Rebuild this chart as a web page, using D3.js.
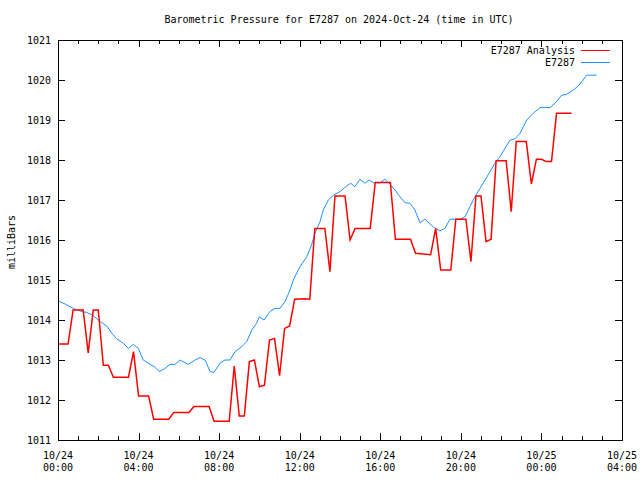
<!DOCTYPE html>
<html>
<head>
<meta charset="utf-8">
<script src="https://cdn.jsdelivr.net/npm/d3@7"></script>
<style>
  html, body { margin: 0; padding: 0; background: #fff; }
  svg { display: block; }
  text { font-family: "DejaVu Sans Mono", "Liberation Mono", monospace; font-size: 10px; fill: #000; }
</style>
</head>
<body>
<svg id="chart" width="640" height="480"></svg>
<script>
// ---- data (time = hours since 2024-10-24 00:00 UTC, value = millibars) ----
const title = "Barometric Pressure for E7287 on 2024-Oct-24 (time in UTC)";
const yLabel = "milliBars";
const seriesNames = ["E7287 Analysis", "E7287"];

const analysisTimes = [0, 0.5, 0.75, 1.25, 1.5, 1.75, 2.0, 2.25, 2.5, 2.75, 3.5, 3.75, 4.0, 4.5, 4.75, 5.5, 5.75, 6.5, 6.75, 7.5, 7.75, 8.5, 8.75, 9.0, 9.25, 9.5, 9.75, 10.0, 10.25, 10.5, 10.75, 11.0, 11.25, 11.5, 11.75, 12.25, 12.5, 12.75, 13.25, 13.5, 13.75, 14.25, 14.5, 14.75, 15.5, 15.75, 16.5, 16.75, 17.5, 17.75, 18.5, 18.75, 19.0, 19.5, 19.75, 20.25, 20.5, 20.75, 21.0, 21.25, 21.5, 21.75, 22.25, 22.5, 22.75, 23.25, 23.5, 23.75, 24.0, 24.25, 24.5, 24.75, 25.5];
const analysisValues = [1013.4, 1013.4, 1014.25, 1014.25, 1013.18, 1014.25, 1014.25, 1012.87, 1012.87, 1012.57, 1012.57, 1013.21, 1012.1, 1012.1, 1011.52, 1011.52, 1011.69, 1011.69, 1011.84, 1011.84, 1011.47, 1011.47, 1012.85, 1011.6, 1011.6, 1012.96, 1013.0, 1012.33, 1012.37, 1013.5, 1013.54, 1012.61, 1013.79, 1013.85, 1014.52, 1014.53, 1014.52, 1016.29, 1016.29, 1015.21, 1017.1, 1017.1, 1016.0, 1016.29, 1016.29, 1017.44, 1017.44, 1016.02, 1016.02, 1015.67, 1015.63, 1016.29, 1015.25, 1015.25, 1016.52, 1016.52, 1015.46, 1017.1, 1017.1, 1015.96, 1016.02, 1017.98, 1017.98, 1016.71, 1018.46, 1018.46, 1017.4, 1018.02, 1018.02, 1017.96, 1017.96, 1019.17, 1019.17];

const stationTimes = [0, 0.35, 0.76, 1.18, 1.42, 1.75, 2.09, 2.42, 2.67, 2.91, 3.24, 3.49, 3.74, 3.99, 4.23, 4.57, 4.82, 5.03, 5.31, 5.56, 5.81, 6.06, 6.47, 6.8, 7.05, 7.3, 7.55, 7.74, 8.04, 8.29, 8.54, 8.79, 9.12, 9.37, 9.62, 9.86, 9.99, 10.23, 10.52, 10.77, 11.02, 11.27, 11.52, 11.68, 12.01, 12.35, 12.59, 12.76, 13.01, 13.17, 13.42, 13.67, 14.0, 14.33, 14.53, 14.74, 14.99, 15.24, 15.45, 15.65, 15.99, 16.23, 16.48, 16.73, 16.98, 17.23, 17.47, 17.72, 17.97, 18.22, 18.47, 18.72, 18.96, 19.21, 19.46, 19.96, 20.21, 20.45, 20.7, 20.95, 21.2, 21.45, 21.69, 21.94, 22.19, 22.44, 22.69, 22.94, 23.27, 23.6, 23.93, 24.43, 24.76, 25.0, 25.25, 25.58, 25.83, 26.07, 26.24, 26.74];
const stationValues = [1014.48, 1014.4, 1014.29, 1014.21, 1014.19, 1014.11, 1013.96, 1013.85, 1013.67, 1013.53, 1013.42, 1013.29, 1013.39, 1013.29, 1013.0, 1012.89, 1012.82, 1012.71, 1012.79, 1012.89, 1012.89, 1013.0, 1012.89, 1013.0, 1013.06, 1013.0, 1012.71, 1012.69, 1012.92, 1013.0, 1013.0, 1013.21, 1013.33, 1013.46, 1013.75, 1013.92, 1014.08, 1014.0, 1014.21, 1014.29, 1014.29, 1014.46, 1014.75, 1015.0, 1015.33, 1015.58, 1015.88, 1016.17, 1016.46, 1016.75, 1017.0, 1017.12, 1017.21, 1017.35, 1017.42, 1017.33, 1017.52, 1017.42, 1017.5, 1017.43, 1017.43, 1017.52, 1017.4, 1017.25, 1017.08, 1016.93, 1016.92, 1016.75, 1016.43, 1016.52, 1016.4, 1016.29, 1016.23, 1016.29, 1016.52, 1016.52, 1016.58, 1016.83, 1017.08, 1017.29, 1017.5, 1017.71, 1017.92, 1018.08, 1018.29, 1018.5, 1018.53, 1018.67, 1019.0, 1019.17, 1019.31, 1019.31, 1019.46, 1019.62, 1019.64, 1019.75, 1019.85, 1020.0, 1020.12, 1020.12];

const yTicks = [1011, 1012, 1013, 1014, 1015, 1016, 1017, 1018, 1019, 1020, 1021];
const xMajorTicks = [0, 4, 8, 12, 16, 20, 24, 28];
const xTickDates = ["10/24", "10/24", "10/24", "10/24", "10/24", "10/24", "10/25", "10/25"];
const xTickTimes = ["00:00", "04:00", "08:00", "12:00", "16:00", "20:00", "00:00", "04:00"];
const xMinorTicks = d3.range(0, 29, 1);
const colors = ["#ff0000", "#1e90ff"];

// ---- layout ----
const svg = d3.select("#chart");
const L = 58, R = 622, T = 40, B = 440;
const x = d3.scaleLinear().domain([0, 28]).range([L, R]);
const y = d3.scaleLinear().domain([1011, 1021]).range([B, T]);

svg.append("rect").attr("width", 640).attr("height", 480).attr("fill", "#fff");

// title
svg.append("text").attr("x", 339).attr("y", 23).attr("text-anchor", "middle").text(title);

// ticks
const tg = svg.append("g").attr("stroke", "#000").attr("stroke-width", 1).attr("shape-rendering", "crispEdges");
xMinorTicks.forEach(h => {
  const major = h % 4 === 0;
  const len = major ? 7 : 4;
  const xx = Math.round(x(h)) + 0.5;
  tg.append("line").attr("x1", xx).attr("x2", xx).attr("y1", B).attr("y2", B - len);
  tg.append("line").attr("x1", xx).attr("x2", xx).attr("y1", T).attr("y2", T + len);
});
yTicks.forEach(v => {
  const yy = Math.round(y(v)) + 0.5;
  tg.append("line").attr("x1", L).attr("x2", L + 7).attr("y1", yy).attr("y2", yy);
  tg.append("line").attr("x1", R).attr("x2", R - 7).attr("y1", yy).attr("y2", yy);
});

// y tick labels
svg.append("g").selectAll("text").data(yTicks).join("text")
  .attr("x", 51).attr("y", d => y(d) + 4)
  .attr("text-anchor", "end").text(d => d);

// x tick labels
const xl = svg.append("g");
xMajorTicks.forEach((h, i) => {
  xl.append("text").attr("x", x(h)).attr("y", 459).attr("text-anchor", "middle").text(xTickDates[i]);
  xl.append("text").attr("x", x(h)).attr("y", 471).attr("text-anchor", "middle").text(xTickTimes[i]);
});

// y axis label
svg.append("text").attr("transform", "translate(15,242) rotate(-90)")
  .attr("text-anchor", "middle").text(yLabel);

// lines
const line = d3.line().x(d => x(d[0])).y(d => y(d[1]));
const analysis = analysisTimes.map((t, i) => [t, analysisValues[i]]);
const station = stationTimes.map((t, i) => [t, stationValues[i]]);

svg.append("path").datum(station).attr("d", line)
  .attr("fill", "none").attr("stroke", colors[1]).attr("stroke-width", 1);
svg.append("path").datum(analysis).attr("d", line)
  .attr("fill", "none").attr("stroke", colors[0]).attr("stroke-width", 1.5);

// legend
const leg = svg.append("g");
seriesNames.forEach((name, i) => {
  const ly = 50 + i * 12;
  leg.append("text").attr("x", 575).attr("y", ly + 4).attr("text-anchor", "end").text(name);
  leg.append("line").attr("x1", 581).attr("x2", 610).attr("y1", ly + 0.5).attr("y2", ly + 0.5)
    .attr("stroke", colors[i]).attr("stroke-width", 1);
});

// frame
svg.append("rect").attr("x", L + 0.5).attr("y", T + 0.5).attr("width", R - L).attr("height", B - T)
  .attr("fill", "none").attr("stroke", "#000").attr("stroke-width", 1).attr("shape-rendering", "crispEdges");
</script>
</body>
</html>
